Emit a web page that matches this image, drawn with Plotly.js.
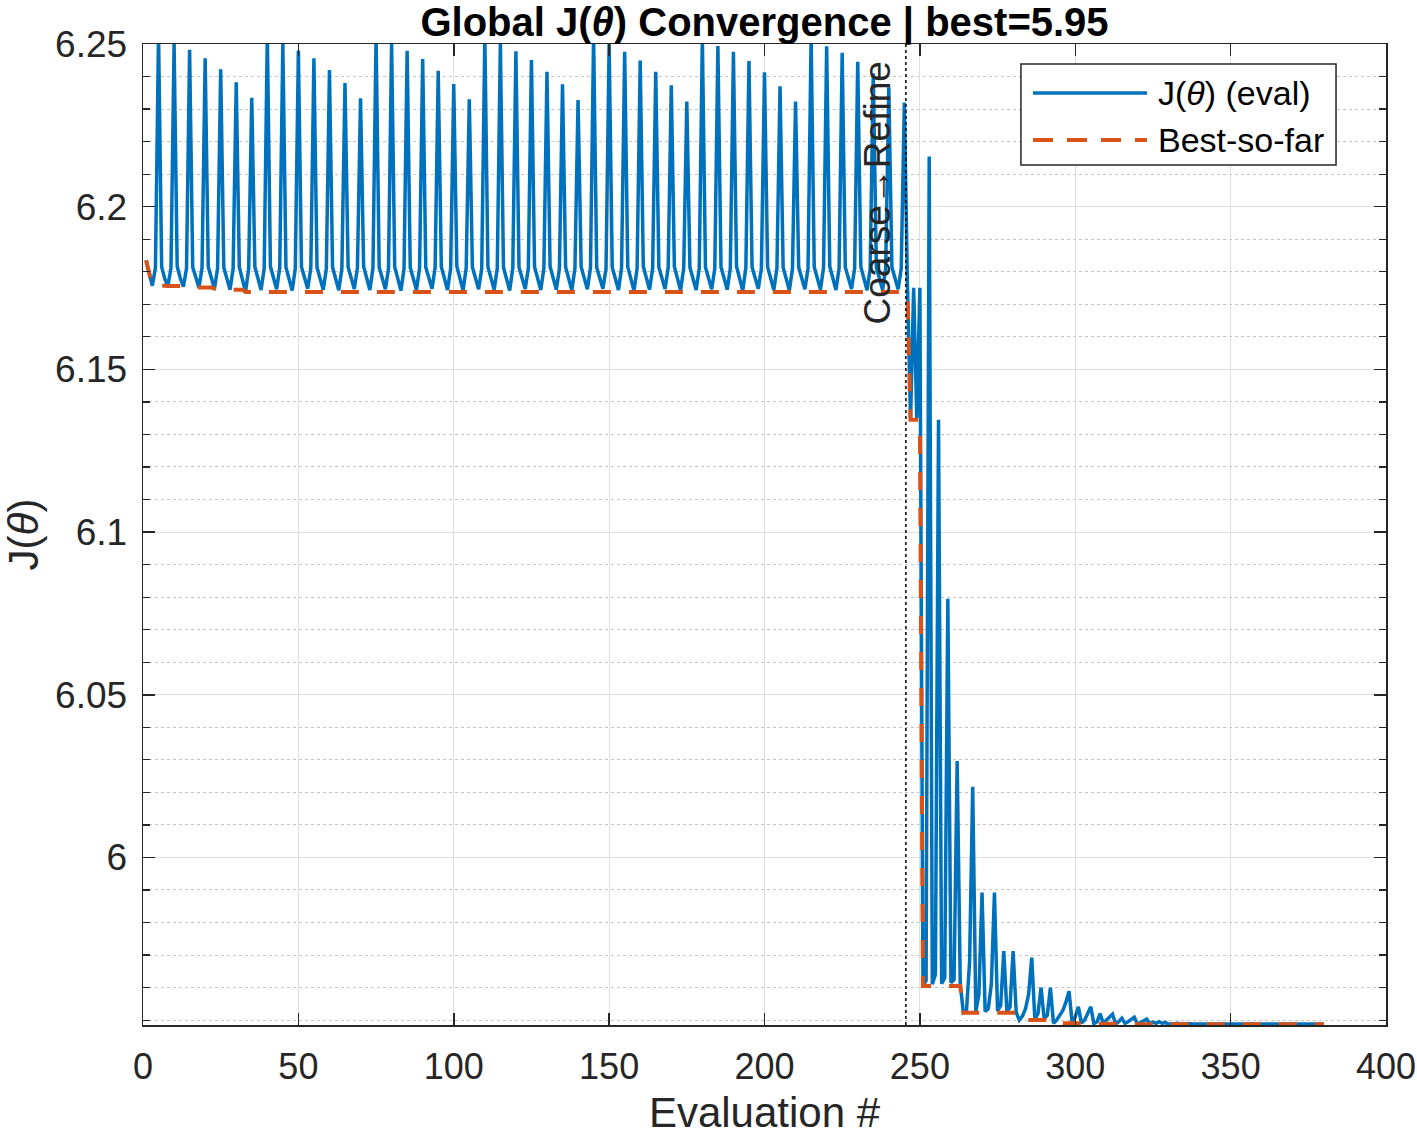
<!DOCTYPE html>
<html>
<head>
<meta charset="utf-8">
<script src="https://cdn.plot.ly/plotly-3.0.1.min.js"></script>
<style>html,body{margin:0;padding:0;background:#fff;}</style>
</head>
<body>
<div id="chart" style="width:1417px;height:1136px;"></div>
<script>
// J(theta) value of every evaluation, evaluation #1 .. #380
const evalJ = [
  // coarse phase (evals 1-245)
  6.1835, 6.1790, 6.1757, 6.1812, 6.2530,
  6.1815, 6.1779, 6.1756, 6.1811, 6.2503,
  6.1816, 6.1780, 6.1754, 6.1810, 6.2482,
  6.1814, 6.1778, 6.1752, 6.1812, 6.2456,
  6.1815, 6.1779, 6.1748, 6.1811, 6.2422,
  6.1813, 6.1777, 6.1745, 6.1810, 6.2382,
  6.1814, 6.1776, 6.1738, 6.1809, 6.2335,
  6.1815, 6.1778, 6.1744, 6.1811, 6.2528,
  6.1816, 6.1779, 6.1746, 6.1812, 6.2500,
  6.1814, 6.1777, 6.1742, 6.1810, 6.2480,
  6.1815, 6.1778, 6.1748, 6.1811, 6.2456,
  6.1813, 6.1779, 6.1745, 6.1809, 6.2420,
  6.1814, 6.1777, 6.1743, 6.1810, 6.2380,
  6.1815, 6.1776, 6.1747, 6.1812, 6.2333,
  6.1816, 6.1778, 6.1744, 6.1811, 6.2525,
  6.1814, 6.1779, 6.1746, 6.1810, 6.2501,
  6.1815, 6.1777, 6.1742, 6.1809, 6.2479,
  6.1813, 6.1778, 6.1745, 6.1811, 6.2454,
  6.1814, 6.1779, 6.1748, 6.1812, 6.2418,
  6.1815, 6.1776, 6.1744, 6.1810, 6.2377,
  6.1816, 6.1778, 6.1743, 6.1811, 6.2330,
  6.1814, 6.1777, 6.1746, 6.1809, 6.2525,
  6.1815, 6.1779, 6.1745, 6.1810, 6.2502,
  6.1813, 6.1778, 6.1742, 6.1812, 6.2478,
  6.1814, 6.1776, 6.1747, 6.1811, 6.2451,
  6.1815, 6.1777, 6.1744, 6.1810, 6.2415,
  6.1816, 6.1779, 6.1745, 6.1809, 6.2376,
  6.1814, 6.1778, 6.1743, 6.1811, 6.2328,
  6.1815, 6.1777, 6.1746, 6.1812, 6.2522,
  6.1813, 6.1776, 6.1748, 6.1810, 6.2501,
  6.1814, 6.1778, 6.1744, 6.1811, 6.2476,
  6.1815, 6.1779, 6.1742, 6.1809, 6.2449,
  6.1816, 6.1777, 6.1745, 6.1810, 6.2415,
  6.1814, 6.1778, 6.1747, 6.1812, 6.2373,
  6.1815, 6.1776, 6.1743, 6.1811, 6.2323,
  6.1813, 6.1779, 6.1744, 6.1810, 6.2520,
  6.1814, 6.1777, 6.1746, 6.1809, 6.2494,
  6.1815, 6.1778, 6.1745, 6.1811, 6.2476,
  6.1816, 6.1779, 6.1742, 6.1812, 6.2448,
  6.1814, 6.1777, 6.1748, 6.1810, 6.2413,
  6.1815, 6.1776, 6.1744, 6.1811, 6.2370,
  6.1813, 6.1778, 6.1743, 6.1809, 6.2323,
  6.1814, 6.1779, 6.1746, 6.1810, 6.2520,
  6.1815, 6.1777, 6.1745, 6.1812, 6.2493,
  6.1816, 6.1778, 6.1744, 6.1811, 6.2473,
  6.1814, 6.1776, 6.1747, 6.1810, 6.2445,
  6.1815, 6.1779, 6.1743, 6.1809, 6.2410,
  6.1813, 6.1777, 6.1745, 6.1811, 6.2367,
  6.1814, 6.1778, 6.1746, 6.1810, 6.2320,
  // refine phase (evals 246-380)
  6.1760, 6.1345, 6.1751, 6.1350, 6.1751,
  5.9605, 5.9622, 6.2154, 5.9610, 5.9640,
  6.1345, 5.9612, 5.9630, 6.0795, 5.9615,
  5.9625, 6.0296, 5.9610, 5.9523, 5.9528,
  5.9680, 6.0217, 5.9526, 5.9580, 5.9892,
  5.9527, 5.9535, 5.9610, 5.9892, 5.9528,
  5.9545, 5.9712, 5.9526, 5.9540, 5.9712,
  5.9524, 5.9500, 5.9512, 5.9535, 5.9580,
  5.9692, 5.9502, 5.9520, 5.9600, 5.9503,
  5.9515, 5.9600, 5.9490, 5.9500, 5.9515,
  5.9530, 5.9555, 5.9589, 5.9492, 5.9510,
  5.9541, 5.9491, 5.9500, 5.9520, 5.9541,
  5.9489, 5.9495, 5.9520, 5.9490, 5.9500,
  5.9510, 5.9518, 5.9488, 5.9495, 5.9506,
  5.9490, 5.9495, 5.9502, 5.9509, 5.94875,
  5.9492, 5.9498, 5.9503, 5.9489, 5.9494,
  5.9490, 5.9495, 5.9490, 5.9493, 5.94872,
  5.9489, 5.9488, 5.9490, 5.9488, 5.9489,
  5.9488, 5.9489, 5.9488, 5.9488, 5.9489,
  5.9488, 5.9488, 5.9489, 5.9488, 5.9488,
  5.9488, 5.9489, 5.9488, 5.9488, 5.9488,
  5.9488, 5.9488, 5.9488, 5.9488, 5.9488,
  5.9488, 5.9488, 5.9488, 5.9488, 5.9488,
  5.9488, 5.9488, 5.9488, 5.9488, 5.9488,
  5.9488, 5.9488, 5.9488, 5.9488, 5.9488,
  5.9488, 5.9488, 5.9488, 5.9488, 5.9488,
  5.9488, 5.9488, 5.9488, 5.9488, 5.9488
];

// best-so-far curve: evaluation numbers where it changes, with its values
const bestEvals = [1, 2, 3, 7, 8, 12, 13, 17, 18, 22, 23, 27, 28, 32, 33, 246, 247, 250, 251, 263, 264, 281, 282, 292, 293, 305, 306, 312, 313, 319, 320, 329, 330, 380];
const bestValues = [6.1835, 6.1790, 6.1757, 6.1757, 6.1756, 6.1756, 6.1754, 6.1754, 6.1752, 6.1752, 6.1748, 6.1748, 6.1745, 6.1745, 6.1738, 6.1738, 6.1345, 6.1345, 5.9605, 5.9605, 5.9523, 5.9523, 5.9500, 5.9500, 5.9490, 5.9490, 5.9489, 5.9489, 5.9488, 5.9488, 5.94875, 5.94875, 5.94872, 5.94872];

const switchEval = 245.5;   // coarse -> refine boundary
const xTickVals = [0, 50, 100, 150, 200, 250, 300, 350, 400];
const xTickText = ['0', '50', '100', '150', '200', '250', '300', '350', '400'];
const yTickVals = [6, 6.05, 6.1, 6.15, 6.2, 6.25];
const yTickText = ['6', '6.05', '6.1', '6.15', '6.2', '6.25'];
const legendLabels = ['J(<i>θ</i>) (eval)', 'Best-so-far'];

const evalNumbers = evalJ.map((_, i) => i + 1);

const BLUE = '#0072BD';
const ORANGE = '#D95319';
const AX = '#262626';
const FONT = 'Liberation Sans, Arial, Helvetica, sans-serif';

const traces = [
  {
    x: evalNumbers, y: evalJ, type: 'scatter', mode: 'lines',
    name: legendLabels[0], showlegend: false,
    line: {color: BLUE, width: 3.5}
  },
  {
    x: bestEvals, y: bestValues, type: 'scatter', mode: 'lines',
    name: legendLabels[1], showlegend: false,
    line: {color: ORANGE, width: 4, dash: '18px,18px'}
  }
];

// legend box (paper coords)
const lgX0 = 0.7063, lgX1 = 0.9598, lgY0 = 0.8767, lgY1 = 0.9796;
const lgLineX0 = 0.7160, lgLineX1 = 0.8077, lgTextX = 0.8150;
const lgRowY = [0.9500, 0.9021];

const layout = {
  width: 1417, height: 1136,
  margin: {l: 143, r: 31, t: 44, b: 111, pad: 0},
  paper_bgcolor: '#ffffff', plot_bgcolor: '#ffffff',
  font: {family: FONT, size: 36, color: AX},
  showlegend: false,
  title: {
    text: '<b>Global J(<i>θ</i>) Convergence | best=5.95</b>',
    font: {family: FONT, size: 40, color: '#000000'},
    xref: 'container', yref: 'container',
    x: 764.5 / 1417, xanchor: 'center',
    y: 1 - 22 / 1136, yanchor: 'middle'
  },
  xaxis: {
    range: [0, 400],
    tickmode: 'array', tickvals: xTickVals, ticktext: xTickText,
    ticks: 'inside', ticklen: 12, tickwidth: 1.5, tickcolor: AX,
    showline: true, linecolor: AX, linewidth: 1.5, mirror: 'allticks',
    showgrid: true, gridcolor: '#dedede', gridwidth: 1,
    zeroline: false,
    tickfont: {family: FONT, size: 36, color: AX},
    ticklabelstandoff: 9,
    ticklabeloverflow: 'allow',
    title: {text: 'Evaluation #', font: {family: FONT, size: 42, color: AX}, standoff: 15}
  },
  yaxis: {
    range: [5.9485, 6.25],
    tickmode: 'array', tickvals: yTickVals, ticktext: yTickText,
    ticks: 'inside', ticklen: 12, tickwidth: 1.5, tickcolor: AX,
    showline: true, linecolor: AX, linewidth: 1.5, mirror: 'allticks',
    showgrid: true, gridcolor: '#dedede', gridwidth: 1,
    zeroline: false,
    minor: {dtick: 0.01, tick0: 6, ticks: 'inside', ticklen: 7, tickwidth: 1.2, tickcolor: AX,
            showgrid: true, gridcolor: '#c4c4c4', gridwidth: 1, griddash: 'dot'},
    tickfont: {family: FONT, size: 37, color: AX},
    ticklabelstandoff: 7,
    ticklabeloverflow: 'allow',
    title: {text: 'J(<i>θ</i>)', font: {family: FONT, size: 42, color: AX}, standoff: 20}
  },
  shapes: [
    {type: 'line', xref: 'x', yref: 'paper', x0: switchEval, x1: switchEval, y0: 0, y1: 1,
     line: {color: '#000000', width: 1.5, dash: 'dot'}},
    {type: 'rect', xref: 'paper', yref: 'paper', x0: lgX0, x1: lgX1, y0: lgY0, y1: lgY1,
     fillcolor: '#ffffff', line: {color: AX, width: 1.5}, layer: 'above'},
    {type: 'line', xref: 'paper', yref: 'paper', x0: lgLineX0, x1: lgLineX1, y0: lgRowY[0], y1: lgRowY[0],
     line: {color: BLUE, width: 3.5}, layer: 'above'},
    {type: 'line', xref: 'paper', yref: 'paper', x0: lgLineX0, x1: lgLineX1, y0: lgRowY[1], y1: lgRowY[1],
     line: {color: ORANGE, width: 4, dash: '20px,14px'}, layer: 'above'}
  ],
  annotations: [
    {text: 'Coarse→Refine', xref: 'x', yref: 'paper', x: 236.5, y: 0.8486,
     xanchor: 'center', yanchor: 'middle', textangle: -90, showarrow: false,
     font: {family: FONT, size: 37, color: AX}},
    {text: legendLabels[0], xref: 'paper', yref: 'paper', x: lgTextX, y: lgRowY[0],
     xanchor: 'left', yanchor: 'middle', showarrow: false,
     font: {family: FONT, size: 34, color: '#000000'}},
    {text: legendLabels[1], xref: 'paper', yref: 'paper', x: lgTextX, y: lgRowY[1],
     xanchor: 'left', yanchor: 'middle', showarrow: false,
     font: {family: FONT, size: 34, color: '#000000'}}
  ]
};

Plotly.newPlot('chart', traces, layout, {displayModeBar: false, staticPlot: true});
</script>
</body>
</html>
